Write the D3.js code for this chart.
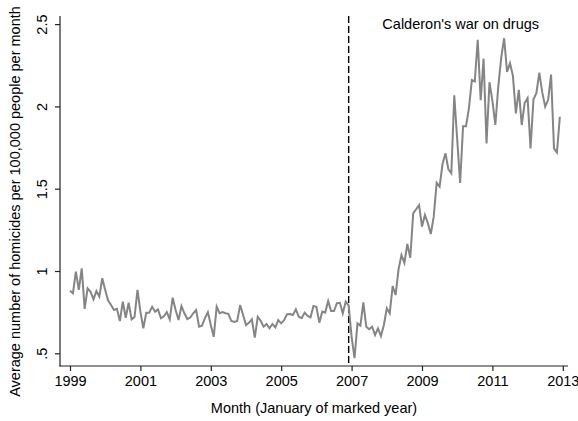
<!DOCTYPE html>
<html>
<head>
<meta charset="utf-8">
<script src="https://cdn.jsdelivr.net/npm/d3@7"></script>
<style>
  html, body { margin: 0; padding: 0; background: #fff; }
  svg { display: block; font-family: "Liberation Sans", Arial, sans-serif; }
</style>
</head>
<body>
<svg id="chart" width="578" height="421"></svg>
<script>
// Monthly series, January 1999 through December 2012
const startYear = 1999;
const homicideRate = [
  0.88, 0.865, 0.996, 0.885, 1.016, 0.77, 0.895, 0.874, 0.828, 0.878, 0.844, 0.956,
  0.885, 0.82, 0.793, 0.763, 0.77, 0.696, 0.814, 0.716, 0.807, 0.706, 0.72, 0.885,
  0.753, 0.652, 0.747, 0.747, 0.783, 0.753, 0.767, 0.713, 0.725, 0.75, 0.706, 0.838,
  0.763, 0.702, 0.787, 0.743, 0.708, 0.717, 0.743, 0.763, 0.662, 0.668, 0.713, 0.75,
  0.672, 0.60, 0.783, 0.743, 0.75, 0.743, 0.74, 0.696, 0.69, 0.696, 0.793, 0.733,
  0.672, 0.685, 0.706, 0.595, 0.722, 0.698, 0.662, 0.678, 0.652, 0.678, 0.658, 0.702,
  0.682, 0.702, 0.737, 0.739, 0.733, 0.767, 0.722, 0.713, 0.747, 0.727, 0.719, 0.787,
  0.783, 0.686, 0.753, 0.747, 0.818, 0.757, 0.757, 0.804, 0.807, 0.743, 0.814, 0.79,
  0.60, 0.47, 0.682, 0.668, 0.81, 0.662, 0.646, 0.662, 0.611, 0.652, 0.605, 0.672,
  0.773, 0.743, 0.909, 0.854, 1.01, 1.097, 1.05, 1.164, 1.081, 1.35, 1.375, 1.40,
  1.27, 1.34, 1.29, 1.225, 1.33, 1.536, 1.512, 1.65, 1.715, 1.618, 1.594, 2.068,
  1.80, 1.535, 1.88, 1.88, 1.99, 2.16, 2.152, 2.405, 2.038, 2.29, 1.775, 2.147,
  2.035, 1.887, 2.12, 2.295, 2.414, 2.21, 2.263, 2.185, 1.958, 2.1, 1.887, 2.02,
  2.05, 1.745, 2.042, 2.082, 2.205, 2.085, 1.998, 2.04, 2.193, 1.745, 1.72, 1.937
];
const xTickValues = [1999, 2001, 2003, 2005, 2007, 2009, 2011, 2013];
const yTickValues = [0.5, 1, 1.5, 2, 2.5];
const yTickLabels = [".5", "1", "1.5", "2", "2.5"];
const policyStart = 2006 + 11 / 12;          // December 2006
const annotationText = "Calderon's war on drugs";
const annotationAt = { year: 2010.1, value: 2.47 };
const xTitle = "Month (January of marked year)";
const yTitle = "Average number of homicides per 100,000 people per month";

const series = homicideRate.map((v, i) => ({ t: startYear + i / 12, v }));

const svg = d3.select("#chart");
const plot = { left: 60, right: 568, top: 16, bottom: 366 };
const fontSize = "14.5px";

const x = d3.scaleLinear().domain([1999, 2013]).range([70, 562.8]);
const y = d3.scaleLinear().domain([0.5, 2.5]).range([353.3, 24.1]);

const axisColor = "#222";

// y axis
const yAxis = svg.append("g")
  .attr("transform", `translate(${plot.left},0)`)
  .call(d3.axisLeft(y).tickValues(yTickValues).tickSize(5).tickSizeOuter(0)
    .tickFormat((d, i) => yTickLabels[i]));
yAxis.select(".domain").remove();
yAxis.selectAll(".tick line").attr("stroke", axisColor).attr("stroke-width", 1.2);
yAxis.selectAll(".tick text")
  .attr("fill", "#000")
  .style("font-size", fontSize)
  .style("font-family", "'Liberation Sans', Arial, sans-serif")
  .attr("x", null).attr("dy", null)
  .attr("text-anchor", "middle")
  .attr("transform", "translate(-13,0) rotate(-90)");

// x axis
const xAxis = svg.append("g")
  .attr("transform", `translate(0,${plot.bottom})`)
  .call(d3.axisBottom(x).tickValues(xTickValues).tickSize(5).tickSizeOuter(0)
    .tickFormat(d3.format("d")));
xAxis.select(".domain").remove();
xAxis.selectAll(".tick line").attr("stroke", axisColor).attr("stroke-width", 1.2);
xAxis.selectAll(".tick text")
  .attr("fill", "#000")
  .style("font-size", fontSize)
  .style("font-family", "'Liberation Sans', Arial, sans-serif")
  .attr("y", 20).attr("dy", null);

// axis spines spanning the plot region
svg.append("line")
  .attr("x1", plot.left).attr("x2", plot.left)
  .attr("y1", plot.top).attr("y2", plot.bottom + 0.6)
  .attr("stroke", axisColor).attr("stroke-width", 1.2);
svg.append("line")
  .attr("x1", plot.left - 0.6).attr("x2", plot.right)
  .attr("y1", plot.bottom).attr("y2", plot.bottom)
  .attr("stroke", axisColor).attr("stroke-width", 1.2);

// policy start marker
svg.append("line")
  .attr("x1", x(policyStart)).attr("x2", x(policyStart))
  .attr("y1", plot.top).attr("y2", plot.bottom)
  .attr("stroke", "#000").attr("stroke-width", 1.4)
  .attr("stroke-dasharray", "7,3");

// series line
const line = d3.line().x(d => x(d.t)).y(d => y(d.v));
svg.append("path")
  .datum(series)
  .attr("d", line)
  .attr("fill", "none")
  .attr("stroke", "#858585")
  .attr("stroke-width", 2)
  .attr("stroke-linejoin", "miter");

// annotation
svg.append("text")
  .attr("x", x(annotationAt.year)).attr("y", y(annotationAt.value))
  .attr("text-anchor", "middle")
  .style("font-size", fontSize)
  .text(annotationText);

// axis titles
svg.append("text")
  .attr("x", (plot.left + plot.right) / 2).attr("y", 413)
  .attr("text-anchor", "middle")
  .style("font-size", fontSize)
  .text(xTitle);
svg.append("text")
  .attr("transform", "translate(20,201.5) rotate(-90)")
  .attr("text-anchor", "middle")
  .style("font-size", fontSize)
  .text(yTitle);
</script>
</body>
</html>
